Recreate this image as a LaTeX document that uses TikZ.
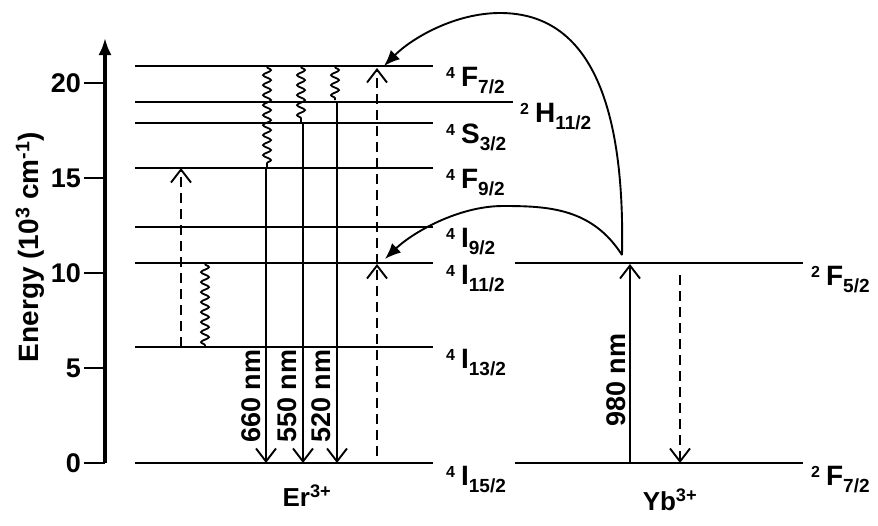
\documentclass[tikz,border=0pt]{standalone}
\usepackage{fontspec}
\setmainfont{Liberation Sans}
\usetikzlibrary{arrows.meta,decorations.pathmorphing}
\newcommand\term[3]{\raisebox{8pt}{\fontsize{16}{16}\selectfont#1}\hspace{6pt}#2\raisebox{-7pt}{\fontsize{19}{19}\selectfont#3}}
\tikzset{
  lvl/.style={line width=2pt},
  trans/.style={line width=1.9pt},
  openhead/.style={-{Straight Barb[length=13pt,width=20pt]}},
  dsh/.style={dash pattern=on 10pt off 6pt},
  wavy/.style={line width=1.8pt, decorate, decoration={snake, amplitude=4pt, segment length=10pt}},
  lab/.style={anchor=base west, inner sep=0pt, font=\bfseries\fontsize{28}{28}\selectfont},
  ticklab/.style={anchor=east, inner sep=0pt, font=\bfseries\fontsize{27}{27}\selectfont},
  nmlab/.style={rotate=90, inner sep=0pt, font=\bfseries\fontsize{27}{27}\selectfont},
  ionlab/.style={inner sep=0pt, font=\bfseries\fontsize{26}{26}\selectfont},
  transfer/.style={line width=1.9pt, -{Latex[length=16pt,width=13pt]}}
}
\begin{document}
\begin{tikzpicture}[x=1pt,y=-1pt]
\useasboundingbox (0,0) rectangle (878,525);
% axis
\coordinate (ax0) at (105,463);
\coordinate (axT) at (105,38);
\draw[line width=3.2pt,-{Latex[length=17pt,width=13pt]}] (ax0) -- (axT);
\foreach \v/\yy in {0/463,5/368,10/273,15/178,20/83}{
  \draw[line width=1.8pt] (84,\yy) -- (105,\yy);
  \node[ticklab] (t\v) at (81,\yy) {\v};
}
\node[rotate=90, inner sep=0pt, font=\bfseries\fontsize{28}{28}\selectfont] (elab) at (30,247) {Energy (10\textsuperscript{3} cm\textsuperscript{-1})};
% Er levels
\foreach \yy in {463,347,263,227,168,123,66}{
  \draw[lvl] (135,\yy) -- (433,\yy);
}
\draw[lvl] (135,102) -- (513,102);
% Yb levels
\draw[lvl] (515,263) -- (803,263);
\draw[lvl] (515,463) -- (803,463);
% level labels
\node[lab] (lF72) at (446,86) {\term{4}{F}{7/2}};
\node[lab] (lH112) at (520,122) {\term{2}{H}{11/2}};
\node[lab] (lS32) at (446,143) {\term{4}{S}{3/2}};
\node[lab] (lF92) at (446,188) {\term{4}{F}{9/2}};
\node[lab] (lI92) at (446,247) {\term{4}{I}{9/2}};
\node[lab] (lI112) at (446,284) {\term{4}{I}{11/2}};
\node[lab] (lI132) at (446,368) {\term{4}{I}{13/2}};
\node[lab] (lI152) at (446,485) {\term{4}{I}{15/2}};
\node[lab] (lF52) at (811,285) {\term{2}{F}{5/2}};
\node[lab] (lF72b) at (811,485) {\term{2}{F}{7/2}};
% ion labels
\node[ionlab] (er) at (307,496) {Er\textsuperscript{3+}};
\node[ionlab] (yb) at (670,500) {Yb\textsuperscript{3+}};
% left excitation (dashed) and relaxation (wavy)
\coordinate (d1b) at (181,347);
\coordinate (d1t) at (181,168);
\draw[trans,dsh,openhead] (d1b) -- (d1t);
\coordinate (w1t) at (205,264);
\coordinate (w1b) at (205,347);
\draw[wavy] (w1t) -- (w1b);
% 660 nm
\coordinate (w660t) at (267,67);
\coordinate (w660b) at (267,168);
\coordinate (e660) at (266,463);
\draw[wavy] (w660t) -- (w660b);
\draw[trans,openhead] (266,168) -- (e660);
\node[nmlab] (n660) at (251,396) {660 nm};
% 550 nm
\coordinate (w550t) at (301,67);
\coordinate (w550b) at (301,123);
\coordinate (e550) at (303,463);
\draw[wavy] (w550t) -- (w550b);
\draw[trans,openhead] (303,123) -- (e550);
\node[nmlab] (n550) at (287,396) {550 nm};
% 520 nm
\coordinate (w520t) at (335,67);
\coordinate (w520b) at (335,100);
\coordinate (e520) at (337,463);
\draw[wavy] (w520t) -- (w520b);
\draw[trans,openhead] (337,102) -- (e520);
\node[nmlab] (n520) at (321,396) {520 nm};
% dashed two-step excitation
\coordinate (d2b) at (377,456);
\coordinate (d2m) at (377,264);
\coordinate (d2t) at (377,68);
\draw[trans,dsh,openhead] (d2b) -- (d2m);
\draw[trans,dsh,openhead] (d2m) -- (d2t);
% Yb absorption and relaxation
\coordinate (yb0) at (630,463);
\coordinate (yb1) at (630,264);
\draw[trans,openhead] (yb0) -- (yb1);
\node[nmlab] (n980) at (616,380) {980 nm};
\coordinate (ybd0) at (680,275);
\coordinate (ybd1) at (680,463);
\draw[trans,dsh,openhead] (ybd0) -- (ybd1);
% energy transfer
\coordinate (src) at (622,255);
\coordinate (tgtA) at (384,66);
\coordinate (tgtB) at (385,259);
\draw[transfer] (src) .. controls (626,60) and (565,13) .. (500,13) .. controls (455,13) and (412,38) .. (tgtA);
\draw[transfer] (src) .. controls (592,208) and (548,206) .. (503,206) .. controls (458,206) and (412,233) .. (tgtB);
\end{tikzpicture}
\end{document}
